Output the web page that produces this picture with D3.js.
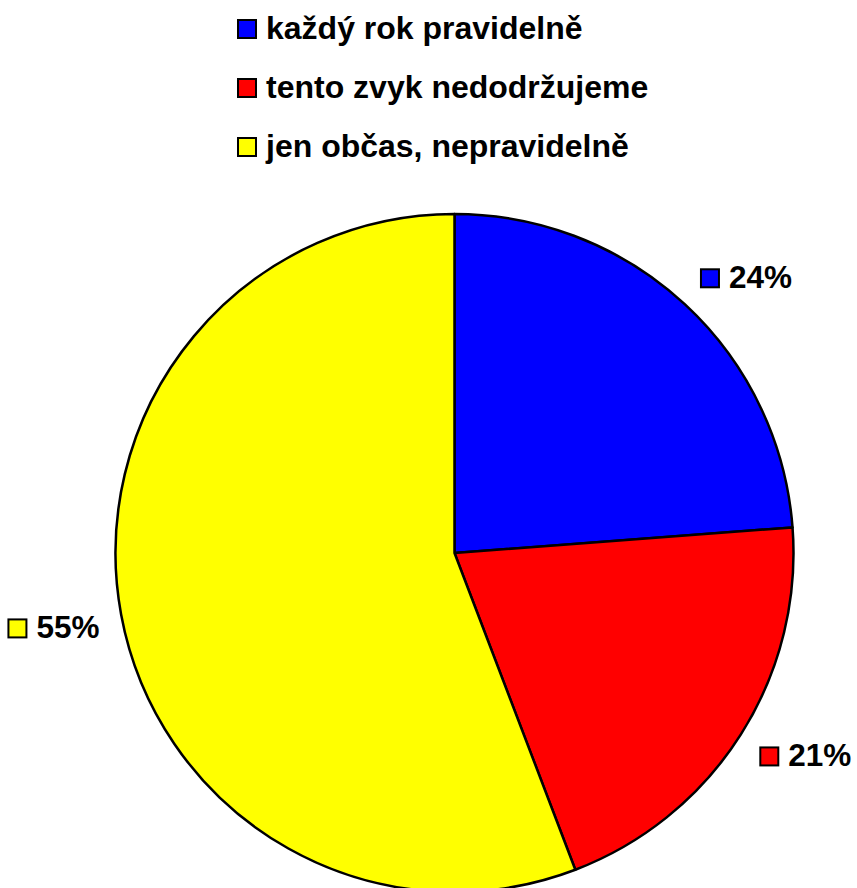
<!DOCTYPE html>
<html><head><meta charset="utf-8">
<script src="https://cdn.jsdelivr.net/npm/d3@7"></script>
<style>body{margin:0;background:#fff}svg{display:block}text{font-family:Arial,"Liberation Sans",sans-serif;font-weight:bold;fill:#000}</style>
</head><body>
<svg id="c" width="857" height="888"></svg>
<script>
const categories = ["každý rok pravidelně", "tento zvyk nedodržujeme", "jen občas, nepravidelně"];
const values = [23.8, 20.4, 55.8];
const labels = ["24%", "21%", "55%"];
const colors = ["#0000FF", "#FF0000", "#FFFF00"];

const svg = d3.select("#c");
const cx = 454.5, cy = 553, R = 339, cornerR = 361;

const pie = d3.pie().sort(null).value(d => d)(values);
const arc = d3.arc().innerRadius(0).outerRadius(R);
const g = svg.append("g").attr("transform", `translate(${cx},${cy})`);
g.selectAll("path").data(pie).join("path")
  .attr("d", arc).attr("fill", (d, i) => colors[i])
  .attr("stroke", "#000").attr("stroke-width", 2.5).attr("stroke-linejoin", "round");

// data labels: box corner facing the pie sits on the mid-angle ray
const sq = 18, gap = 9, boxH = 20;
g.selectAll("g.lab").data(pie).join("g").attr("class", "lab").each(function(d, i) {
  const a = (d.startAngle + d.endAngle) / 2;
  const px = cornerR * Math.sin(a), py = -cornerR * Math.cos(a);
  const el = d3.select(this);
  const t = el.append("text").attr("font-size", 31.5).text(labels[i]);
  const tw = t.node().getComputedTextLength();
  const w = sq + 2 + gap + tw;
  const x0 = Math.sin(a) >= 0 ? px : px - w;
  const y0 = Math.cos(a) >= 0 ? py - boxH : py;
  el.append("rect").attr("x", x0 + 1).attr("y", y0 + 1).attr("width", sq).attr("height", sq)
    .attr("fill", colors[i]).attr("stroke", "#000").attr("stroke-width", 2);
  t.attr("x", x0 + sq + 2 + gap).attr("y", y0 + boxH);
});

// legend
const leg = svg.append("g");
categories.forEach((c, i) => {
  const by = 39 + i * 59;
  leg.append("rect").attr("x", 238).attr("y", by - 19).attr("width", sq).attr("height", sq)
    .attr("fill", colors[i]).attr("stroke", "#000").attr("stroke-width", 2);
  leg.append("text").attr("x", 266).attr("y", by).attr("font-size", 32).text(c);
});
</script>
</body></html>
